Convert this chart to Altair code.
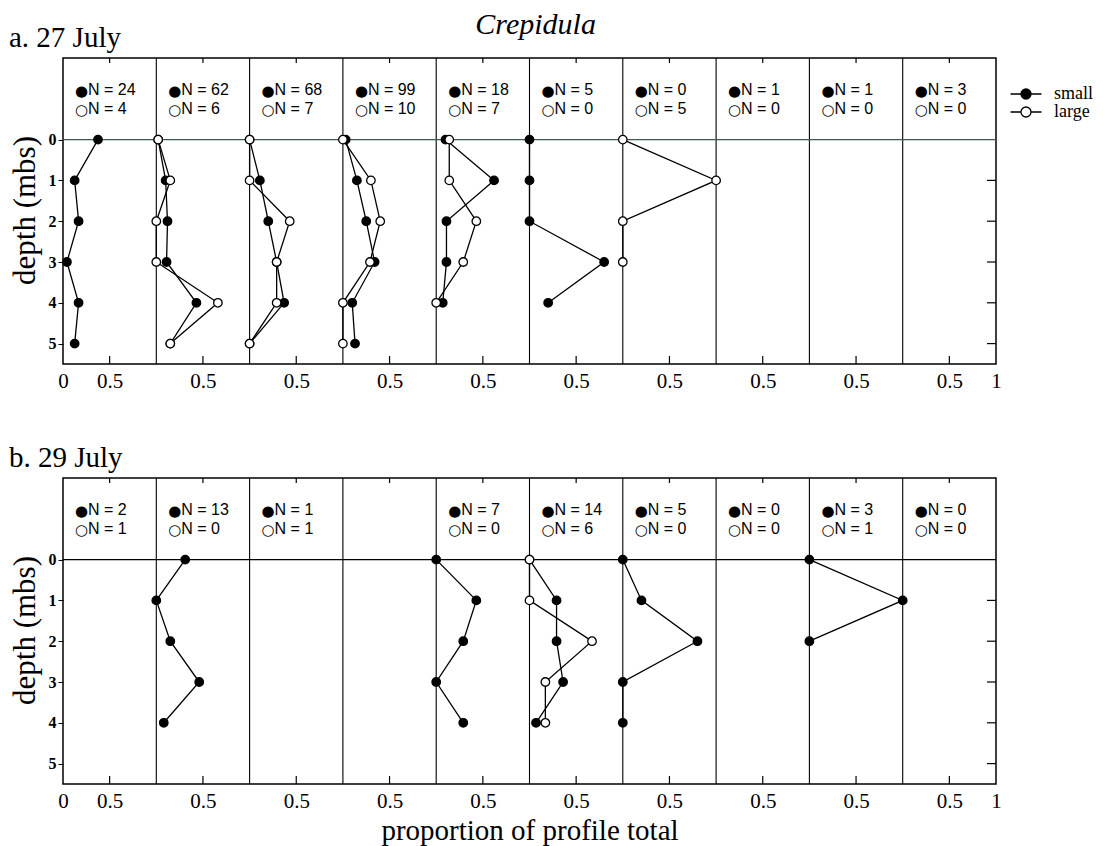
import altair as alt
import pandas as pd

# ---------------- data ----------------
depths = [0, 1, 2, 3, 4, 5]
x_tick_values = [0, 0.5, 1.5, 2.5, 3.5, 4.5, 5.5, 6.5, 7.5, 8.5, 9.5, 10]
panel_edges = [1, 2, 3, 4, 5, 6, 7, 8, 9]

# a. 27 July : proportion of profile total at depth 0..5 per station
a_small = [
    [0.375, 0.125, 0.167, 0.042, 0.167, 0.125],
    [0.02, 0.10, 0.12, 0.11, 0.43, 0.15],
    [0.00, 0.11, 0.20, 0.29, 0.37, 0.00],
    [0.03, 0.15, 0.25, 0.34, 0.10, 0.13],
    [0.10, 0.62, 0.11, 0.11, 0.07, None],
    [0.00, 0.00, 0.00, 0.80, 0.20, None],
    None, None, None, None,
]
a_large = [
    None,
    [0.02, 0.15, 0.00, 0.00, 0.66, 0.15],
    [0.00, 0.00, 0.43, 0.29, 0.29, 0.00],
    [0.00, 0.30, 0.40, 0.29, 0.00, 0.00],
    [0.14, 0.14, 0.43, 0.29, 0.00, None],
    None,
    [0.00, 1.00, 0.00, 0.00, None, None],
    None, None, None,
]
a_n_small = [24, 62, 68, 99, 18, 5, 0, 1, 1, 3]
a_n_large = [4, 6, 7, 10, 7, 0, 5, 0, 0, 0]

# b. 29 July
b_small = [
    None,
    [0.31, 0.00, 0.15, 0.46, 0.08, None],
    None,
    None,
    [0.00, 0.43, 0.29, 0.00, 0.29, None],
    [0.00, 0.29, 0.29, 0.36, 0.07, None],
    [0.00, 0.20, 0.80, 0.00, 0.00, None],
    None,
    [0.00, 1.00, 0.00, None, None, None],
    None,
]
b_large = [
    None, None, None, None, None,
    [0.00, 0.00, 0.67, 0.17, 0.17, None],
    None, None, None, None,
]
b_n_small = [2, 13, 1, None, 7, 14, 5, 0, 3, 0]
b_n_large = [1, 0, 1, None, 0, 6, 0, 0, 1, 0]

# ---------------- helpers ----------------
W, H = 933, 306
SERIF = "Liberation Serif"
SANS = "Liberation Sans"


def long_table(small, large):
    rows = []
    for panel, (sm, lg) in enumerate(zip(small, large)):
        for size, vals in (("small", sm), ("large", lg)):
            if vals is None:
                continue
            for d, v in zip(depths, vals):
                if v is None:
                    continue
                rows.append(dict(panel=panel, depth=d, size=size, value=v,
                                 series=f"{panel}-{size}"))
    return pd.DataFrame(rows)


def header_table(ns, nl):
    rows = []
    for panel, (a, b) in enumerate(zip(ns, nl)):
        if a is None:
            continue
        rows.append(dict(panel=panel, ts=f"N = {a}", tl=f"N = {b}",
                         cs="\u25CF", cl="\u25CB"))
    return pd.DataFrame(rows)


def make_row(small, large, ns, nl, title, xtitle, zero_color, legend):
    xscale = alt.Scale(domain=[0, 10], nice=False, zero=False)
    yscale = alt.Scale(domain=[-2, 5.5], reverse=True, nice=False, zero=False)
    df = long_table(small, large)
    hdr = header_table(ns, nl)

    xaxis_kw = dict(values=x_tick_values,
                    labelExpr="datum.value == 0 ? '0' : (datum.value == 10 ? '1' : '0.5')",
                    ticks=False, domain=False, grid=False,
                    labelFont=SERIF, labelFontSize=21, labelPadding=6,
                    labelFlush=False, labelOverlap=False, labelColor="black")
    if xtitle:
        xaxis_kw.update(title=xtitle, titleFont=SERIF, titleFontSize=29,
                        titleFontWeight="normal", titlePadding=5, titleColor="black")
    else:
        xaxis_kw.update(title="")
    xaxis = alt.Axis(**xaxis_kw)
    yaxis = alt.Axis(values=depths, tickSize=5, ticks=True, tickColor="black",
                     domain=False, grid=False, labelFont=SERIF, labelFontSize=16,
                     labelFontWeight="bold", labelPadding=2, labelColor="black",
                     title="depth (mbs)", titleFont=SERIF, titleFontSize=31,
                     titleFontWeight="normal", titlePadding=7, titleColor="black",
                     titleY=152)

    def X(field):
        return alt.X(field, scale=xscale, axis=xaxis)

    def Y(field):
        return alt.Y(field, scale=yscale, axis=yaxis)

    base = alt.Chart(df).transform_calculate(xpos="datum.panel + datum.value")

    lines = base.mark_line(color="black", strokeWidth=1.3).encode(
        x=X("xpos:Q"), y=Y("depth:Q"), detail="series:N", order="depth:Q")

    edges = alt.Chart(pd.DataFrame({"b": panel_edges})).mark_rule(
        color="black", strokeWidth=1.1).encode(x=X("b:Q"))

    zero = alt.Chart(pd.DataFrame({"z": [0]})).mark_rule(
        color=zero_color, strokeWidth=1.4).encode(y=Y("z:Q"))

    fill_kw = dict(scale=alt.Scale(domain=["small", "large"], range=["black", "white"]))
    if legend:
        fill_kw["legend"] = alt.Legend(
            title=None, orient="none", legendX=954, legendY=27,
            symbolType="M-3.1,0L-1,0M1,0L3.1,0M-1,0A1,1,0,1,1,1,0A1,1,0,1,1,-1,0Z",
            symbolSize=100, symbolStrokeColor="black", symbolStrokeWidth=1.3,
            labelFont=SERIF, labelFontSize=18, labelColor="black", labelOffset=19,
            rowPadding=0, padding=0, labelLimit=200)
    else:
        fill_kw["legend"] = None

    points = base.mark_point(shape="circle", size=72, stroke="black",
                             strokeWidth=1.3, opacity=1, fillOpacity=1).encode(
        x=X("xpos:Q"), y=Y("depth:Q"), fill=alt.Fill("size:N", **fill_kw))

    hbase = alt.Chart(hdr)
    sym_s = hbase.mark_text(align="left", baseline="middle", dx=12, dy=1,
                            font="DejaVu Sans", fontSize=15, color="black").encode(
        x=X("panel:Q"), y=alt.value(32), text="cs:N")
    sym_l = hbase.mark_text(align="left", baseline="middle", dx=12, dy=1,
                            font="DejaVu Sans", fontSize=15, color="black").encode(
        x=X("panel:Q"), y=alt.value(51), text="cl:N")
    txt_s = hbase.mark_text(align="left", baseline="middle", dx=25,
                            font=SANS, fontSize=16, color="black").encode(
        x=X("panel:Q"), y=alt.value(32), text="ts:N")
    txt_l = hbase.mark_text(align="left", baseline="middle", dx=25,
                            font=SANS, fontSize=16, color="black").encode(
        x=X("panel:Q"), y=alt.value(51), text="tl:N")

    inner = pd.DataFrame({"t": x_tick_values[1:-1]})
    bot_ticks = alt.Chart(inner).mark_rule(color="black", strokeWidth=1.2).encode(
        x=X("t:Q"), y=alt.value(H), y2=alt.value(H - 8))
    top_ticks = alt.Chart(inner).mark_rule(color="black", strokeWidth=1.2).encode(
        x=X("t:Q"), y=alt.value(0), y2=alt.value(5))
    right_ticks = alt.Chart(pd.DataFrame({"d": depths[1:]})).mark_rule(
        color="black", strokeWidth=1.2).encode(
        y=Y("d:Q"), x=alt.value(W - 9), x2=alt.value(W))

    return alt.layer(lines, edges, zero, bot_ticks, top_ticks, right_ticks, points,
                     sym_s, sym_l, txt_s, txt_l).properties(
        width=W, height=H,
        title=alt.TitleParams(title, anchor="start", font=SERIF, fontSize=29,
                              fontWeight="normal", color="black", offset=4))


row_a = make_row(a_small, a_large, a_n_small, a_n_large, "a. 27 July", None,
                 "#3b5a52", True)
row_b = make_row(b_small, b_large, b_n_small, b_n_large, "b. 29 July",
                 "proportion of profile total", "black", False)

chart = alt.vconcat(row_a, row_b, spacing=51).properties(
    title=alt.TitleParams("Crepidula", anchor="middle", font=SERIF, fontSize=30,
                          fontStyle="italic", fontWeight="normal", color="black",
                          offset=-16, dx=-15),
    padding={"left": 0, "top": 1, "right": 0, "bottom": 0},
).configure_view(stroke="black", strokeWidth=1.5).resolve_scale(fill="shared")

chart.save("out.html", embed_options={"renderer": "svg", "actions": False})
